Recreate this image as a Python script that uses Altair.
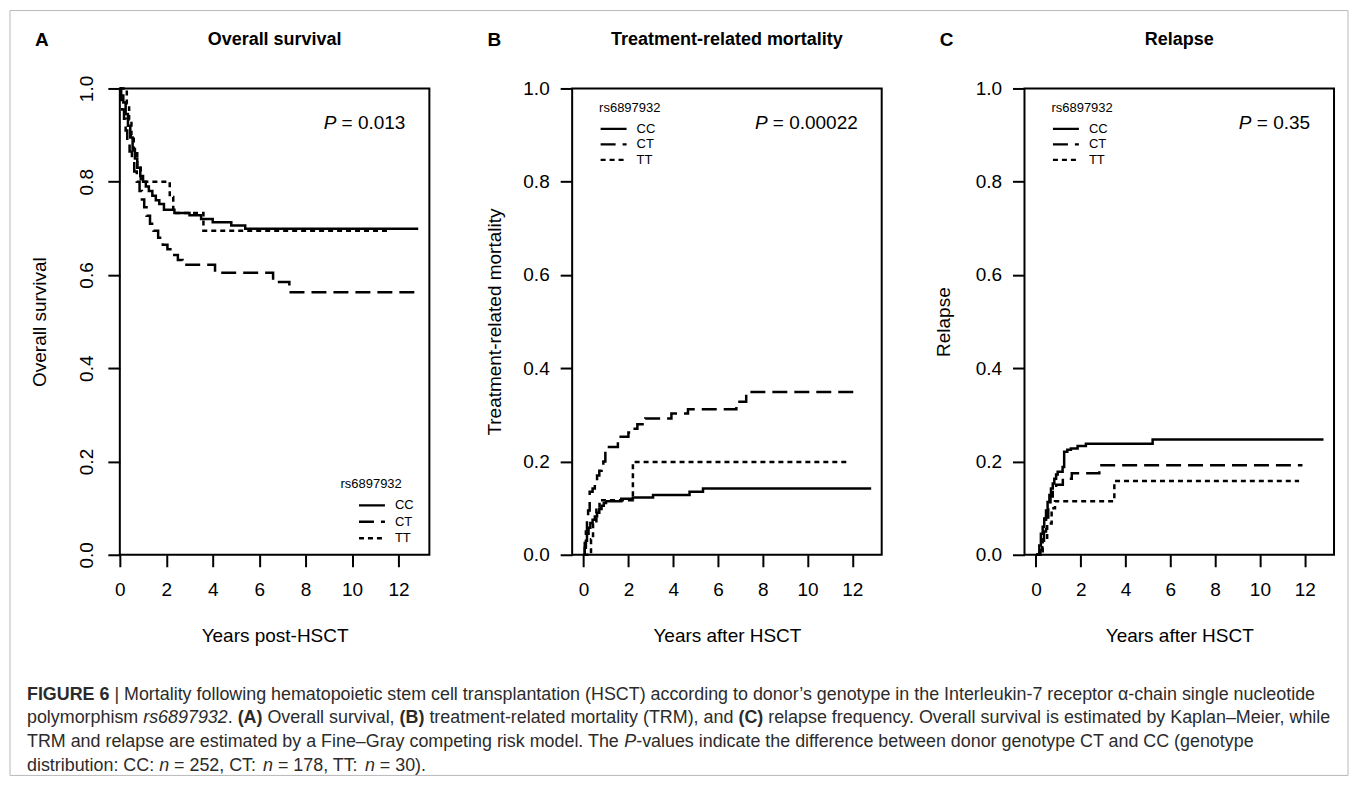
import altair as alt
import pandas as pd

GENOTYPES = ["CC", "CT", "TT"]

# ---- Panel A: overall survival (Kaplan-Meier), step points ----
A_CC_T = [0, 0.05, 0.15, 0.25, 0.35, 0.45, 0.55, 0.65, 0.75, 0.88, 1.0, 1.12, 1.25, 1.4, 1.55, 1.7, 1.9, 2.35, 3.0, 3.5, 4.0, 4.8, 5.4, 12.85]
A_CC_S = [1.0, 0.985, 0.97, 0.945, 0.92, 0.895, 0.87, 0.85, 0.83, 0.812, 0.80, 0.79, 0.78, 0.77, 0.76, 0.752, 0.740, 0.733, 0.728, 0.720, 0.713, 0.706, 0.699, 0.699]
A_CT_T = [0, 0.05, 0.1, 0.18, 0.25, 0.32, 0.42, 0.52, 0.62, 0.73, 0.85, 0.95, 1.05, 1.15, 1.3, 1.45, 1.65, 1.85, 2.05, 2.25, 2.5, 2.7, 4.1, 6.6, 7.3, 12.8]
A_CT_S = [1.0, 0.975, 0.955, 0.935, 0.91, 0.885, 0.865, 0.845, 0.822, 0.80, 0.78, 0.762, 0.745, 0.727, 0.71, 0.695, 0.68, 0.665, 0.655, 0.643, 0.632, 0.622, 0.605, 0.585, 0.563, 0.563]
A_TT_T = [0, 0.3, 0.4, 0.5, 0.6, 0.75, 0.9, 2.15, 2.3, 3.6, 11.55]
A_TT_S = [1.0, 0.967, 0.933, 0.9, 0.867, 0.833, 0.8, 0.767, 0.733, 0.695, 0.695]

# ---- Panel B: treatment-related mortality (cumulative incidence) ----
B_CC_T = [0, 0.05, 0.1, 0.15, 0.22, 0.3, 0.4, 0.5, 0.6, 0.7, 0.8, 0.9, 1.0, 1.68, 2.2, 3.1, 4.73, 5.33, 12.84]
B_CC_F = [0, 0.015, 0.03, 0.045, 0.058, 0.068, 0.075, 0.082, 0.09, 0.098, 0.105, 0.111, 0.115, 0.120, 0.123, 0.128, 0.135, 0.142, 0.142]
B_CT_T = [0, 0.05, 0.1, 0.15, 0.2, 0.27, 0.4, 0.5, 0.6, 0.7, 0.8, 0.88, 0.97, 1.53, 2.0, 2.2, 2.4, 2.75, 3.92, 4.66, 6.82, 7.26, 12.32]
B_CT_F = [0, 0.025, 0.05, 0.075, 0.095, 0.135, 0.142, 0.155, 0.17, 0.18, 0.19, 0.2, 0.231, 0.253, 0.262, 0.27, 0.28, 0.292, 0.303, 0.312, 0.328, 0.349, 0.349]
B_TT_T = [0, 0.33, 0.42, 0.57, 0.71, 2.2, 11.88]
B_TT_F = [0, 0.033, 0.067, 0.1, 0.117, 0.199, 0.199]

# ---- Panel C: relapse (cumulative incidence) ----
C_CC_T = [0, 0.15, 0.22, 0.3, 0.37, 0.45, 0.52, 0.6, 0.67, 0.75, 0.82, 0.9, 0.97, 1.19, 1.26, 1.4, 1.56, 1.86, 2.23, 5.21, 12.84]
C_CC_F = [0, 0.02, 0.045, 0.06, 0.078, 0.095, 0.113, 0.128, 0.142, 0.153, 0.163, 0.172, 0.178, 0.188, 0.221, 0.225, 0.228, 0.233, 0.238, 0.247, 0.247]
C_CT_T = [0, 0.2, 0.28, 0.36, 0.45, 0.55, 0.65, 0.75, 0.9, 1.2, 1.6, 2.83, 11.9]
C_CT_F = [0, 0.01, 0.03, 0.05, 0.08, 0.105, 0.125, 0.14, 0.15, 0.163, 0.175, 0.192, 0.192]
C_TT_T = [0, 0.3, 0.5, 0.7, 0.85, 3.5, 11.75]
C_TT_F = [0, 0.033, 0.067, 0.1, 0.115, 0.158, 0.158]

X_TICKS = [0, 2, 4, 6, 8, 10, 12]
Y_TICKS = [0.0, 0.2, 0.4, 0.6, 0.8, 1.0]
PANEL_LETTERS = ["A", "B", "C"]
PANEL_TITLES = ["Overall survival", "Treatment-related mortality", "Relapse"]
Y_TITLES = ["Overall survival", "Treatment-related mortality", "Relapse"]
X_TITLES = ["Years post-HSCT", "Years after HSCT", "Years after HSCT"]
P_VALUES = ["0.013", "0.00022", "0.35"]
LEGEND_TITLE = "rs6897932"

CAPTION = [
    [("FIGURE 6", "b"), (" | Mortality following hematopoietic stem cell transplantation (HSCT) according to donor\u2019s genotype in the Interleukin-7 receptor \u03b1-chain single nucleotide", "n")],
    [("polymorphism ", "n"), ("rs6897932", "i"), (". ", "n"), ("(A)", "b"), (" Overall survival, ", "n"), ("(B)", "b"),
     (" treatment-related mortality (TRM), and ", "n"), ("(C)", "b"),
     (" relapse frequency. Overall survival is estimated by Kaplan\u2013Meier, while", "n")],
    [("TRM and relapse are estimated by a Fine\u2013Gray competing risk model. The ", "n"), ("P", "i"),
     ("-values indicate the difference between donor genotype CT and CC (genotype", "n")],
    [("distribution: CC: ", "n"), ("n", "i"), (" = 252, CT: ", "n"), ("n", "i"), (" = 178, TT: ", "n"), ("n", "i"), (" = 30).", "n")],
]

# ---- font metrics (Helvetica/Arial compatible) for laying out mixed-style text ----
REG_W = dict(zip(" !\"#$%&'()*+,-./", [278, 278, 355, 556, 556, 889, 667, 191, 333, 333, 389, 584, 278, 333, 278, 278]))
REG_W.update({d: 556 for d in "0123456789"})
REG_W.update(zip(":;<=>?@", [278, 278, 584, 584, 584, 556, 1015]))
REG_W.update(zip("ABCDEFGHIJKLMNOPQRSTUVWXYZ", [667, 667, 722, 722, 667, 611, 778, 722, 278, 500, 667, 556, 833, 722, 778, 667, 778, 722, 667, 611, 722, 667, 944, 667, 667, 611]))
REG_W.update(zip("abcdefghijklmnopqrstuvwxyz", [556, 556, 500, 556, 556, 278, 556, 556, 222, 222, 500, 222, 833, 556, 556, 556, 556, 333, 500, 278, 556, 500, 722, 500, 500, 500]))
REG_W.update({"|": 260, "\u2019": 222, "\u2013": 556, "\u03b1": 578})
BOLD_W = dict(zip(" !\"#$%&'()*+,-./", [278, 333, 474, 556, 556, 889, 722, 238, 333, 333, 389, 584, 278, 333, 278, 278]))
BOLD_W.update({d: 556 for d in "0123456789"})
BOLD_W.update(zip(":;<=>?@", [333, 333, 584, 584, 584, 611, 975]))
BOLD_W.update(zip("ABCDEFGHIJKLMNOPQRSTUVWXYZ", [722, 722, 722, 722, 667, 611, 778, 722, 278, 556, 722, 611, 833, 722, 778, 667, 778, 722, 667, 611, 722, 667, 944, 667, 667, 611]))
BOLD_W.update(zip("abcdefghijklmnopqrstuvwxyz", [556, 611, 556, 611, 556, 333, 611, 611, 278, 278, 556, 278, 889, 611, 611, 611, 611, 389, 556, 333, 611, 556, 778, 556, 556, 500]))
BOLD_W.update({"|": 280})


def text_em(s, style="n"):
    table = BOLD_W if style == "b" else REG_W
    return sum(table.get(c, 556) for c in s) / 1000.0


FONT = "Liberation Sans"
W, H = 310, 467
ONE = pd.DataFrame({"k": [0]})


def label(text, x, y, size, weight="normal", style="normal", align="center", color="black"):
    return alt.Chart(ONE).mark_text(
        text=text, font=FONT, fontSize=size, fontWeight=weight, fontStyle=style,
        color=color, align=align, baseline="middle"
    ).encode(x=alt.value(x), y=alt.value(y))


def caption_layers():
    # caption positioned relative to panel A's plot origin
    cap_x0, cap_y0, line_gap = -93, 607, 23.7
    line1_em = sum(text_em(s, st) for s, st in CAPTION[0])
    cfs = 1290.0 / line1_em
    layers = []
    for li, runs in enumerate(CAPTION):
        xpos = cap_x0
        for s, st in runs:
            stripped = s.lstrip(" ")
            xpos += text_em(" " * (len(s) - len(stripped)), st) * cfs
            layers.append(label(stripped, xpos, cap_y0 + li * line_gap, cfs,
                                weight="bold" if st == "b" else "normal",
                                style="italic" if st == "i" else "normal",
                                align="left", color="#2b2b2b"))
            xpos += text_em(stripped, st) * cfs
    frame = alt.Chart(ONE).mark_rect(fillOpacity=0, stroke="#b9b9b9", strokeWidth=1).encode(
        x=alt.value(-110), x2=alt.value(1230), y=alt.value(-78), y2=alt.value(688)
    )
    return [frame] + layers


def make_panel(i, series, xdomain, rotate_y, legend_pos, ytitle_x, extra=()):
    rows = []
    for g, (ts, vs) in zip(GENOTYPES, series):
        for t, v in zip(ts, vs):
            rows.append({"genotype": g, "t": t, "v": v})
    df = pd.DataFrame(rows)

    if rotate_y:
        ykw = dict(labelAngle=270, labelAlign="center", labelBaseline="middle", labelPadding=21)
    else:
        ykw = dict(labelAlign="right", labelBaseline="middle", labelPadding=11)
    lx, ly, symoff, rowpad = legend_pos

    common_axis = dict(domain=False, grid=False, tickSize=12, tickWidth=2, tickColor="black",
                       labelFont=FONT, labelFontSize=19, labelColor="black",
                       labelFlush=False, labelOverlap=False,
                       titleFont=FONT, titleFontSize=19, titleFontWeight="normal", titleColor="black",
                       titleAlign="center", titleBaseline="middle")

    lines = alt.Chart(df).mark_line(interpolate="step-after", color="black", strokeWidth=2.5).encode(
        x=alt.X("t:Q", scale=alt.Scale(domain=xdomain, nice=False, zero=False),
                axis=alt.Axis(values=X_TICKS, format="d", title=X_TITLES[i],
                              labelBaseline="middle", labelPadding=23,
                              titleX=W / 2, titleY=81, titleAngle=0, **common_axis)),
        y=alt.Y("v:Q", scale=alt.Scale(domain=[0, 1], nice=False, zero=False),
                axis=alt.Axis(values=Y_TICKS, format=".1f", title=Y_TITLES[i],
                              titleX=ytitle_x, titleY=H / 2, titleAngle=270, **common_axis, **ykw)),
        strokeDash=alt.StrokeDash(
            "genotype:N",
            scale=alt.Scale(domain=GENOTYPES, range=[[1, 0], [15, 7], [5, 4]]),
            legend=alt.Legend(title=LEGEND_TITLE, orient="none", legendX=lx, legendY=ly, padding=0,
                              symbolType="M-2,0H2", symbolSize=169, symbolStrokeWidth=2.4,
                              symbolStrokeColor="black", symbolFillColor="transparent",
                              symbolOffset=symoff, labelOffset=15,
                              labelFont=FONT, labelFontSize=13, labelColor="black",
                              titleFont=FONT, titleFontSize=13, titleFontWeight="normal",
                              titleColor="black", titlePadding=6, rowPadding=rowpad),
        ),
    )

    pv = "= " + P_VALUES[i]
    pv_right = W - 24
    p_x = pv_right - (text_em(pv) + text_em(" ")) * 19
    texts = [
        label(PANEL_TITLES[i], W / 2, -49, 18, weight="bold"),
        label(PANEL_LETTERS[i], -78, -49, 19, weight="bold"),
        label(pv, pv_right, 35, 19, align="right"),
        label("P", p_x, 35, 19, style="italic", align="right"),
    ]
    return alt.layer(lines, *texts, *extra).properties(
        width=W, height=H, view=alt.ViewBackground(stroke="black", strokeWidth=2)
    )


pA = make_panel(0, [(A_CC_T, A_CC_S), (A_CT_T, A_CT_S), (A_TT_T, A_TT_S)], [0, 13.33], True,
                (221, 390.5, 23.5, 1.5), -80, extra=caption_layers())
pB = make_panel(1, [(B_CC_T, B_CC_F), (B_CT_T, B_CT_F), (B_TT_T, B_TT_F)], [-0.512, 13.31], False,
                (27, 13.5, 6.5, 0.5), -78)
pC = make_panel(2, [(C_CC_T, C_CC_F), (C_CT_T, C_CT_F), (C_TT_T, C_TT_F)], [-0.512, 13.31], False,
                (27, 13.5, 6.5, 0.5), -81)

chart = alt.hconcat(pA, pB, pC, spacing=143, bounds="flush").resolve_scale(
    x="independent", y="independent", strokeDash="independent"
).resolve_legend(strokeDash="independent").properties(
    padding=0, background="white"
).configure_view(stroke="transparent")

chart.save("out.html", embed_options={"renderer": "svg", "actions": False})
